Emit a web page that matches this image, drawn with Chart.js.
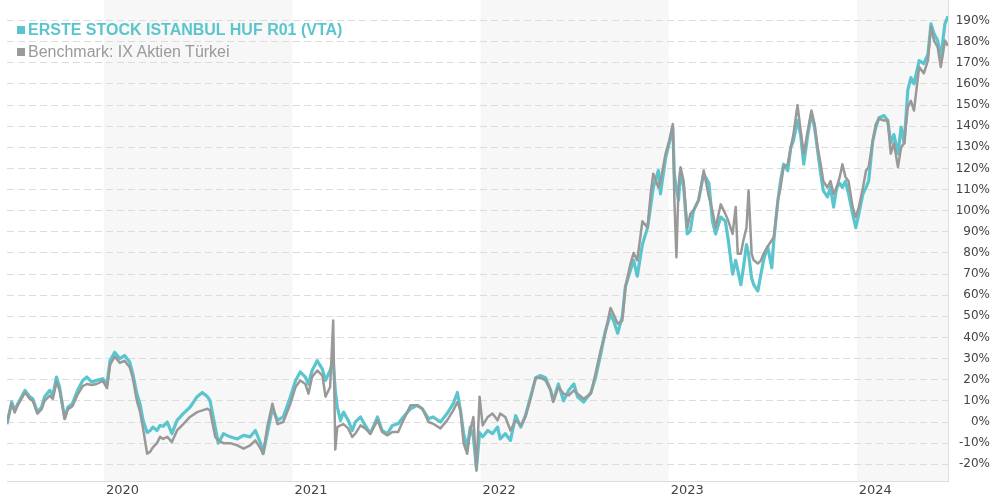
<!DOCTYPE html>
<html>
<head>
<meta charset="utf-8">
<script src="https://cdn.jsdelivr.net/npm/chart.js@4.4.1/dist/chart.umd.min.js"></script>
<style>
  body { margin: 0; background: #fff; }
  #wrap { position: relative; width: 990px; height: 500px; }
  .legend { position: absolute; left: 17px; display: flex; align-items: center; height: 18px;
    font-family: "Liberation Sans", Arial, sans-serif; font-size: 16px; white-space: nowrap; }
  .legend i { display: inline-block; width: 8px; height: 8px; margin-right: 3px; }
  #leg1 { top: 21px; color: #5bc5cd; font-weight: bold; }
  #leg1 i { background: #5bc5cd; }
  #leg2 { top: 43px; color: #9a9a9a; }
  #leg2 i { background: #9a9a9a; }
</style>
</head>
<body>
<div id="wrap">
  <canvas id="chart" width="990" height="500"></canvas>
  <div class="legend" id="leg1"><i></i>ERSTE STOCK ISTANBUL HUF R01 (VTA)</div>
  <div class="legend" id="leg2"><i></i>Benchmark: IX Aktien Türkei</div>
</div>
<script>
const dates = [
  '2019-06-27','2019-07-06','2019-07-12','2019-07-18','2019-08-01','2019-08-10','2019-08-16','2019-08-25','2019-09-02','2019-09-08','2019-09-18','2019-09-24','2019-10-01','2019-10-07','2019-10-17','2019-10-23','2019-11-01','2019-11-11','2019-11-21','2019-11-29','2019-12-08','2019-12-18','2019-12-30',
  '2020-01-07','2020-01-13','2020-01-22','2020-02-01','2020-02-10','2020-02-20','2020-02-26','2020-03-05','2020-03-11','2020-03-17','2020-03-25','2020-03-31','2020-04-05','2020-04-13','2020-04-19','2020-04-25','2020-05-03','2020-05-12','2020-05-22','2020-06-03','2020-06-16','2020-06-30','2020-07-10','2020-07-20','2020-07-25','2020-08-04','2020-08-10','2020-08-20','2020-09-02','2020-09-16','2020-09-28','2020-10-11','2020-10-21','2020-10-31','2020-11-05','2020-11-13','2020-11-23','2020-12-03','2020-12-14','2020-12-28',
  '2021-01-07','2021-01-16','2021-01-26','2021-02-01','2021-02-08','2021-02-18','2021-02-28','2021-03-06','2021-03-15','2021-03-21','2021-03-25','2021-03-29','2021-04-04','2021-04-10','2021-04-19','2021-04-27','2021-05-03','2021-05-13','2021-05-22','2021-06-01','2021-06-15','2021-06-24','2021-07-04','2021-07-14','2021-07-25','2021-08-04','2021-08-18','2021-08-31','2021-09-10','2021-09-22','2021-10-01','2021-10-15','2021-10-28','2021-11-09','2021-11-17','2021-11-23','2021-11-29','2021-12-06','2021-12-12','2021-12-18','2021-12-24','2021-12-30',
  '2022-01-05','2022-01-15','2022-01-24','2022-02-03','2022-02-08','2022-02-18','2022-02-28','2022-03-10','2022-03-20','2022-03-29','2022-04-08','2022-04-18','2022-04-27','2022-05-07','2022-05-17','2022-05-22','2022-06-01','2022-06-11','2022-06-21','2022-07-01','2022-07-08','2022-07-20','2022-08-03','2022-08-12','2022-08-22','2022-08-31','2022-09-10','2022-09-16','2022-09-24','2022-10-03','2022-10-09','2022-10-19','2022-10-25','2022-11-01','2022-11-11','2022-11-21','2022-11-27','2022-12-02','2022-12-12','2022-12-16','2022-12-26',
  '2023-01-02','2023-01-09','2023-01-12','2023-01-16','2023-01-20','2023-01-24','2023-01-30','2023-02-06','2023-02-12','2023-02-18','2023-02-28','2023-03-10','2023-03-20','2023-03-27','2023-04-02','2023-04-12','2023-04-21','2023-04-27','2023-05-05','2023-05-11','2023-05-15','2023-05-21','2023-05-26','2023-06-01','2023-06-05','2023-06-11','2023-06-15','2023-06-23','2023-06-29','2023-07-04','2023-07-12','2023-07-20','2023-07-24','2023-08-01','2023-08-06','2023-08-12','2023-08-20','2023-08-26','2023-08-31','2023-09-08','2023-09-14','2023-09-20','2023-09-28','2023-10-05','2023-10-11','2023-10-17','2023-10-23','2023-10-28','2023-11-05','2023-11-11','2023-11-17','2023-11-23','2023-11-29','2023-12-04','2023-12-10','2023-12-16','2023-12-24','2023-12-30',
  '2024-01-05','2024-01-13','2024-01-19','2024-01-24','2024-02-01','2024-02-07','2024-02-13','2024-02-23','2024-03-01','2024-03-07','2024-03-13','2024-03-21','2024-03-27','2024-04-02','2024-04-09','2024-04-15','2024-04-21','2024-05-01','2024-05-10','2024-05-18','2024-05-24','2024-05-30','2024-06-06','2024-06-12','2024-06-16','2024-06-20','2024-06-26'
];

// fund performance in %
const fundValues = [
  -1, 9.5, 5.5, 8.7, 15, 12, 11, 4.7, 7, 12, 15, 12.6, 21.3, 16.6, 1.6, 7, 8.7, 15, 19.7, 21.3, 19, 19.7, 20.5,
  18, 29, 33, 30, 31.5, 28.4, 23, 13.4, 8.7, 0.8, -5, -4, -2.4, -4, -1.6, -2, 0, -5.5, 0.8, 4, 7, 12, 14, 12, 10, -2.4, -10, -5.5, -7, -8, -6.3, -7, -4, -10, -15, -5.5, 6.3, 0.8, 2.4, 12,
  19.7, 23.7, 21.3, 18, 24.4, 29, 25, 19.7, 24.4, 29, 15, 7, 0.8, 4.7, 0.8, -4, 0, 2.4, -1.6, -5.5, 2.4, -4, -5.5, -1.6, -0.8, 2.4, 6.3, 7.9, 6.3, 1.6, 2.4, 0, 4, 8.7, 14, 5.5, -5.5, -12, -2.4, -7, -22, -5,
  -7, -4, -5.5, -2.4, -8, -5.5, -8.7, 3, -2.4, 3, 12, 21, 22, 21, 15, 10, 18, 10, 15, 18, 12, 9.5, 14, 21, 32, 43, 51, 48, 42, 50, 64, 72, 76.5, 69, 84, 92, 102, 111, 119, 108, 125,
  132, 139.5, 117.5, 110, 105, 119, 111, 89, 90.6, 100, 105, 117.5, 113, 95, 89, 97, 95, 85.5, 70, 76.5, 72, 65, 73, 84, 79.6, 68, 65, 62, 70, 76.5, 83, 73, 86, 105, 114, 122, 119, 130, 133, 142.7, 136, 122, 136, 146, 139.5, 128.5, 117.5, 109.5, 106.5, 111, 101.7, 111, 113, 111, 114, 108, 98.5, 92,
  98.5, 108, 111, 114, 133, 139.5, 144, 145, 142.7, 132, 136, 127, 139.5, 132, 157, 163, 160, 171, 169.6, 174, 188.4, 183.7, 180.5, 172.6, 180.5, 188.4, 192
];

// benchmark performance in %
const benchValues = [
  0, 8.7, 4.5, 8, 14, 11, 10, 4, 6, 10, 12.5, 11, 19, 15, 1.6, 6, 7.5, 13, 17, 18, 17.5, 18, 19.5,
  16, 27, 31, 28, 29, 26, 21, 10, 5, -3, -15, -14, -12, -10, -7, -8, -7, -9.5, -4, -1, 2.4, 4.7, 5.5, 6.3, 5.5, -7, -8.7, -10, -10, -11, -12.6, -11, -8.7, -12.6, -15, -2.4, 8.7, -1, 0, 8.7,
  16.6, 19.7, 18, 13.4, 21.3, 24.4, 22, 12, 16.6, 48, -13, -2.4, -1.6, -1, -3, -7, -5.5, -1.6, -3, -5.5, 0.8, -4.7, -6.3, -4.7, -4.7, 0.8, 7.9, 7.9, 6.3, 0, -0.8, -3, 0.8, 5.5, 9.5, 5.5, -10, -15, -4, 2.4, -23, 12,
  -1.6, 2.4, 4, 0.8, 4, 2.4, -4, 0.8, -1.6, 2.4, 11, 21, 21, 19.7, 15, 9.5, 16.6, 13.4, 12.6, 15, 13.4, 11, 13.4, 23, 34, 42, 54, 51, 46.5, 48, 64, 75, 80, 76.5, 95, 92, 108, 117.5, 111, 114, 127,
  133, 141, 105, 78, 111, 120.6, 114, 92, 98.5, 100, 105, 119, 106.5, 100, 92, 103, 98.5, 95, 89, 101.7, 79.6, 79.6, 86, 92, 109.5, 79.6, 76.5, 75, 76.5, 79.6, 83, 86, 87.5, 105, 111, 120.6, 122, 130, 136, 150, 138, 127, 138, 147.4, 141, 130, 122, 114, 111, 114, 108, 111, 116, 122, 116, 114, 101.7, 97,
  101.7, 111, 119, 120.6, 133, 141, 143.5, 142.7, 142.7, 127, 132, 120.6, 130, 132, 149, 152, 147.4, 168, 165, 171, 187, 180.5, 177.4, 168, 174, 180.5, 178
];

const yearLabels = [2020, 2021, 2022, 2023, 2024];
const shadedYears = [2020, 2022, 2024];
const yTicks = [-20, -10, 0, 10, 20, 30, 40, 50, 60, 70, 80, 90, 100, 110, 120, 130, 140, 150, 160, 170, 180, 190];

const toTime = s => Date.parse(s + 'T00:00:00Z');
const fundPoints = dates.map((d, i) => ({ x: toTime(d), y: fundValues[i] }));
const benchPoints = dates.map((d, i) => ({ x: toTime(d), y: benchValues[i] }));

// light grey band behind every other year
const yearBands = {
  id: 'yearBands',
  beforeDraw(chart) {
    const { ctx, chartArea, scales: { x } } = chart;
    ctx.save();
    ctx.fillStyle = '#f7f7f7';
    shadedYears.forEach(y => {
      const x0 = Math.max(x.getPixelForValue(Date.UTC(y, 0, 1)), chartArea.left);
      const x1 = Math.min(x.getPixelForValue(Date.UTC(y + 1, 0, 1)), chartArea.right);
      ctx.fillRect(x0, chartArea.top, x1 - x0, chartArea.bottom - chartArea.top);
    });
    ctx.restore();
  }
};

const tickFont = { family: '"DejaVu Sans", Verdana, sans-serif', size: 12 };

new Chart(document.getElementById('chart'), {
  type: 'line',
  data: {
    datasets: [
      {
        label: 'Benchmark: IX Aktien Türkei',
        data: benchPoints,
        borderColor: '#999999',
        borderWidth: 2.5,
        order: 0
      },
      {
        label: 'ERSTE STOCK ISTANBUL HUF R01 (VTA)',
        data: fundPoints,
        borderColor: '#5bc5cd',
        borderWidth: 3.2,
        order: 1
      }
    ]
  },
  options: {
    responsive: false,
    animation: false,
    devicePixelRatio: 1,
    layout: { padding: { left: 7, top: 0, right: 0, bottom: 0 } },
    elements: {
      point: { radius: 0 },
      line: { tension: 0, borderJoinStyle: 'round' }
    },
    plugins: {
      legend: { display: false },
      tooltip: { enabled: false }
    },
    scales: {
      x: {
        type: 'linear',
        min: toTime(dates[0]),
        max: toTime(dates[dates.length - 1]),
        afterBuildTicks: s => { s.ticks = yearLabels.map(y => ({ value: Date.UTC(y, 0, 1) })); },
        afterFit: s => { s.height = 19; s.paddingLeft = 0; s.paddingRight = 0; },
        grid: { display: false, drawTicks: false },
        border: { display: true, color: '#dddddd', width: 1 },
        ticks: {
          callback: v => new Date(v).getUTCFullYear(),
          align: 'start',
          labelOffset: 2,
          maxRotation: 0,
          autoSkip: false,
          padding: 2,
          color: '#444',
          font: { family: '"DejaVu Sans", Verdana, sans-serif', size: 13 }
        }
      },
      y: {
        position: 'right',
        min: -27.9,
        max: 199.7,
        afterBuildTicks: s => { s.ticks = yTicks.map(v => ({ value: v })); },
        afterFit: s => { s.width = 42; s.paddingTop = 0; s.paddingBottom = 0; },
        grid: { color: '#dcdcdc', drawTicks: false, lineWidth: 1 },
        border: { display: true, color: '#dddddd', width: 1, dash: [7, 4] },
        ticks: {
          callback: v => v + '%',
          crossAlign: 'far',
          padding: 9,
          color: '#444',
          font: tickFont
        }
      }
    }
  },
  plugins: [yearBands]
});
</script>
</body>
</html>
